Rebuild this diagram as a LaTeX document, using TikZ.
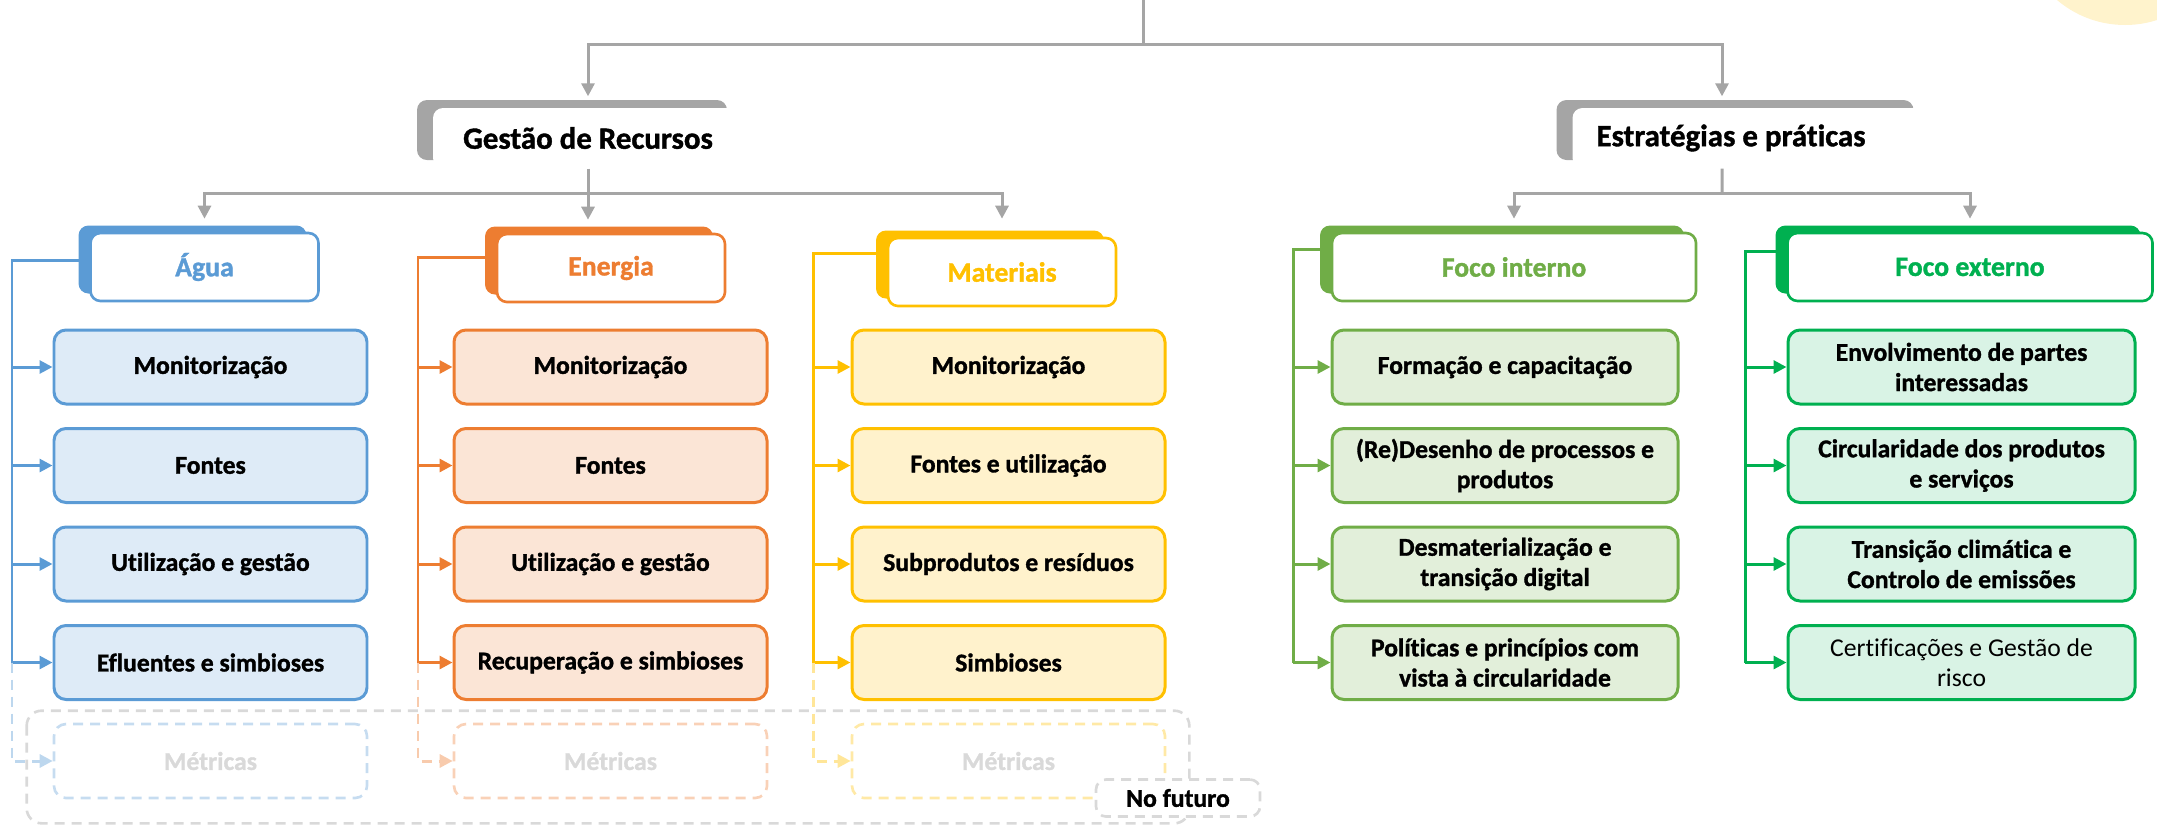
\documentclass[tikz,border=0pt]{standalone}
\usepackage{fontspec}
\setmainfont{Carlito}[Ligatures={NoCommon},BoldFeatures={FakeBold=1.2}]
\usepackage{tikz}
\usetikzlibrary{positioning,calc,arrows.meta,shadows}
\usepackage{xcolor}
\definecolor{agua}{HTML}{5B9BD5}
\definecolor{energia}{HTML}{ED7D31}
\definecolor{materiais}{HTML}{FFC000}
\definecolor{interno}{HTML}{70AD47}
\definecolor{externo}{HTML}{00B050}
\definecolor{linkgray}{HTML}{A5A5A5}
\definecolor{futuregray}{HTML}{D9D9D9}
\newcommand{\itemtxt}{\fontsize{7.3}{8.6}\selectfont\bfseries}
\newcommand{\headtxt}{\fontsize{7.9}{9}\selectfont\bfseries}
\newcommand{\grouptxt}{\fontsize{8.8}{10}\selectfont\bfseries}

\begin{document}
\begin{tikzpicture}[x=0.1mm,y=-0.1mm,>={Triangle[length=1.3mm,width=1.3mm]},node distance=9.85mm,
	link/.style={draw=linkgray,line width=0.85pt},
	linkarrow/.style={link,->,shorten >=1.3mm},
	flow/.style={draw=#1,line width=0.85pt},
	item/.style={draw=#1,fill=#1!20,line width=0.85pt,rounded corners=1.2mm,minimum width=31.3mm,minimum height=7.4mm,inner sep=1pt,align=center,font=\itemtxt},
	future/.style={draw=#1!35,text=futuregray,line width=0.75pt,dash pattern=on 1mm off 0.7mm,rounded corners=1.2mm,minimum width=31.3mm,minimum height=7.4mm,font=\itemtxt},
	head/.style={draw=#1,text=#1,fill=white,line width=0.75pt,rounded corners=1mm,minimum width=22.8mm,minimum height=6.8mm,font=\headtxt,general shadow={fill=#1,shadow xshift=-1.2mm,shadow yshift=0.75mm}},
	group/.style={fill=white,rounded corners=1mm,minimum height=6mm,font=\grouptxt,general shadow={fill=linkgray,shadow xshift=-1.6mm,shadow yshift=0.8mm}},
	futurebox/.style={draw=futuregray,line width=0.75pt,dash pattern=on 1mm off 0.7mm,rounded corners=1.5mm},
	futuretag/.style={draw=futuregray,fill=white,line width=0.75pt,dash pattern=on 1mm off 0.7mm,rounded corners=1mm,minimum width=16.4mm,minimum height=3.7mm,inner sep=1pt,font=\itemtxt}]
		\useasboundingbox (0,0) rectangle (2157,827);
		\begin{scope}
		\clip (0,0) rectangle (2157,827);
		\fill[materiais!20] (2125,-80) circle (10.5mm);
		\end{scope}

		\node[group,minimum width=31mm] (gestao) at (588,138) {Gestão de Recursos};
		\node[group,minimum width=35.7mm] (estrat) at (1751,138) {\hspace*{-4mm}Estratégias e práticas};

		\node[head=agua] (agua) at (204.5,267) {Água};
		\node[head=energia] (energia) at (611,268) {Energia};
		\node[head=materiais] (materiais) at (1002,272) {Materiais};
		\node[head=interno,minimum width=36.4mm] (interno) at (1514,267) {Foco interno};
		\node[head=externo,minimum width=36.5mm] (externo) at (1970,267) {Foco externo};

		\node[item=agua] (agua1) at (210.5,367) {Monitorização};
		\node[item=agua] (agua2) [below of=agua1] {Fontes};
		\node[item=agua] (agua3) [below of=agua2] {Utilização e gestão};
		\node[item=agua] (agua4) [below of=agua3] {Efluentes e simbioses};
		\node[future=agua] (aguamet) [below of=agua4] {Métricas};

		\node[item=energia] (energia1) at (610.5,367) {Monitorização};
		\node[item=energia] (energia2) [below of=energia1] {Fontes};
		\node[item=energia] (energia3) [below of=energia2] {Utilização e gestão};
		\node[item=energia] (energia4) [below of=energia3] {Recuperação e simbioses};
		\node[future=energia] (energiamet) [below of=energia4] {Métricas};

		\node[item=materiais] (materiais1) at (1008.5,367) {Monitorização};
		\node[item=materiais] (materiais2) [below of=materiais1] {Fontes e utilização};
		\node[item=materiais] (materiais3) [below of=materiais2] {Subprodutos e resíduos};
		\node[item=materiais] (materiais4) [below of=materiais3] {Simbioses};
		\node[future=materiais] (materiaismet) [below of=materiais4] {Métricas};

		\node[item=interno,minimum width=34.6mm] (interno1) at (1505,367) {Formação e capacitação};
		\node[item=interno,minimum width=34.6mm] (interno2) [below of=interno1] {(Re)Desenho de processos e\\produtos};
		\node[item=interno,minimum width=34.6mm] (interno3) [below of=interno2] {Desmaterialização e\\transição digital};
		\node[item=interno,minimum width=34.6mm] (interno4) [below of=interno3] {Políticas e princípios com\\vista à circularidade};

		\node[item=externo,fill=externo!15,minimum width=34.7mm] (externo1) at (1961.5,367) {Envolvimento de partes\\interessadas};
		\node[item=externo,fill=externo!15,minimum width=34.7mm] (externo2) [below of=externo1] {Circularidade dos produtos\\e serviços};
		\node[item=externo,fill=externo!15,minimum width=34.7mm] (externo3) [below of=externo2] {Transição climática e\\Controlo de emissões};
		\node[item=externo,fill=externo!15,minimum width=34.7mm,font=\fontsize{7.3}{8.6}\selectfont] (externo4) [below of=externo3] {Certificações e Gestão de\\risco};

		\draw[futurebox] ($(aguamet.north west)+(-26,-12)$) rectangle ($(materiaismet.south east)+(23,24)$);
		\node[futuretag] (futuro) at (1178,798) {No futuro};

		\coordinate (top) at (1143,0);
		\coordinate (topbus) at (1143,44);
		\draw[link] (top) -- (topbus);
		\draw[linkarrow,shorten >=1.1mm] (topbus) -| (gestao.north);
		\draw[linkarrow,shorten >=1.1mm] (topbus) -| ([xshift=-2.9mm]estrat.north);

		\coordinate (gbus) at (588,193);
		\draw[link] (gestao.south) -- (gbus);
		\draw[linkarrow] (gbus) -| (agua.north);
		\draw[linkarrow] (gbus) -- (energia.north -| gbus);
		\draw[linkarrow,shorten >=1.8mm] (gbus) -| (materiais.north);

		\coordinate (ebus) at (1722,193);
		\draw[link] ([xshift=-2.9mm]estrat.south) -- (ebus);
		\draw[linkarrow] (ebus) -| (interno.north);
		\draw[linkarrow] (ebus) -| (externo.north);

		\coordinate (aguaspine) at (12,0);
		\coordinate (energiaspine) at (418,0);
		\coordinate (materiaisspine) at (813,0);
		\coordinate (internospine) at (1293,0);
		\coordinate (externospine) at (1745,0);

		\draw[flow=agua] ([yshift=0.7mm]agua.west) -| (aguaspine |- agua4);
		\draw[flow=energia] ([yshift=1.1mm]energia.west) -| (energiaspine |- energia4);
		\draw[flow=materiais] ([yshift=1.9mm]materiais.west) -| (materiaisspine |- materiais4);
		\draw[flow=interno] ([yshift=1.8mm]interno.west) -| (internospine |- interno4);
		\draw[flow=externo] ([yshift=1.6mm]externo.west) -| (externospine |- externo4);

		\foreach \col in {agua,energia,materiais,interno,externo}
			\foreach \i in {1,...,4}
				\draw[flow=\col,->] (\col spine |- \col\i) -- (\col\i);

		\foreach \col in {agua,energia,materiais}
			\draw[flow=\col!40,dash pattern=on 1mm off 0.7mm,->] (\col spine |- \col4) |- (\col met);
\end{tikzpicture}
\end{document}
